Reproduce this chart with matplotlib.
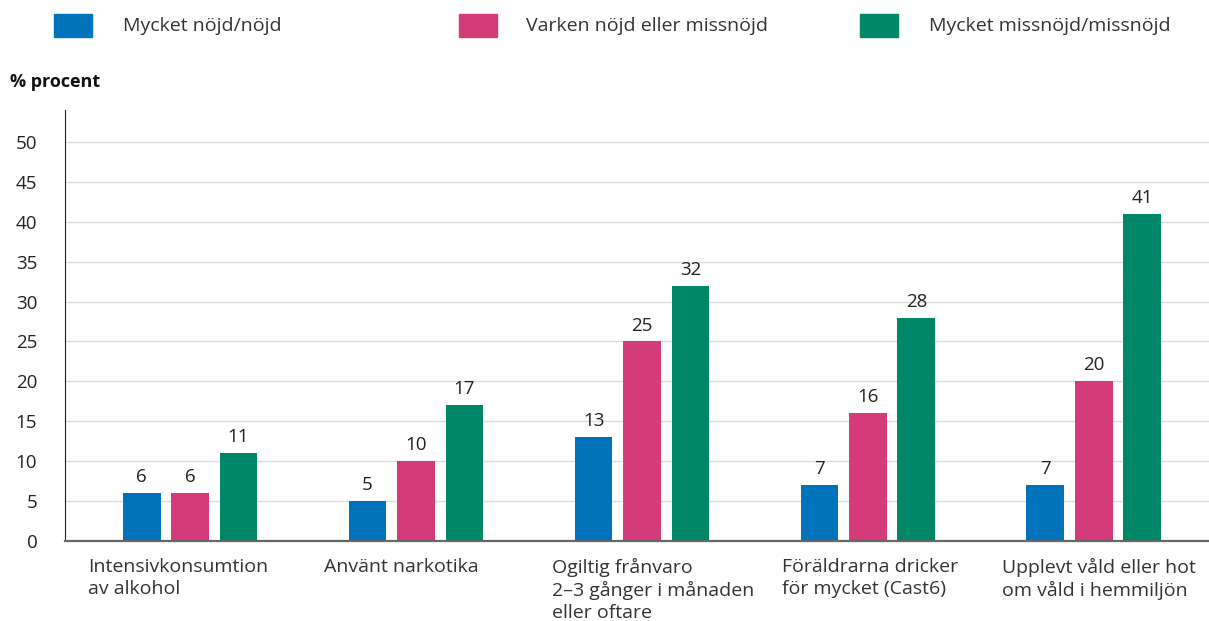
import matplotlib.pyplot as plt
import matplotlib.transforms as mtransforms
import numpy as np
from matplotlib.patches import Rectangle

categories = [
    "Intensivkonsumtion\nav alkohol",
    "Använt narkotika",
    "Ogiltig frånvaro\n2–3 gånger i månaden\neller oftare",
    "Föräldrarna dricker\nför mycket (Cast6)",
    "Upplevt våld eller hot\nom våld i hemmiljön",
]
series_names = ["Mycket nöjd/nöjd", "Varken nöjd eller missnöjd", "Mycket missnöjd/missnöjd"]
nojd = [6, 5, 13, 7, 7]
varken = [6, 10, 25, 16, 20]
missnojd = [11, 17, 32, 28, 41]
yticks = [0, 5, 10, 15, 20, 25, 30, 35, 40, 45, 50]

colors = ["#0073ba", "#d43b7a", "#008767"]
text_color = "#333333"
fs = 14

plt.rcParams['font.family'] = ['Open Sans', 'DejaVu Sans']

fig = plt.figure(figsize=(12.09, 6.21), dpi=100)
ax = fig.add_axes([0.0538, 0.1288, 0.9462, 0.6941])

x = np.arange(len(categories))
width = 0.168
offset = 0.2146
for i, (vals, col) in enumerate(zip([nojd, varken, missnojd], colors)):
    pos = x + (i - 1) * offset
    ax.bar(pos, vals, width=width, color=col, zorder=3)
    for p, v in zip(pos, vals):
        ax.annotate(str(v), (p, v), xytext=(0, 5), textcoords='offset points',
                    ha='center', va='bottom', fontsize=13.5, color='#222222')

ax.set_xlim(-0.553, 4.509)
ax.set_ylim(0, 54)
ax.set_yticks(yticks)
ax.set_yticklabels([str(t) for t in yticks], fontsize=13.5, color='#222222')
ax.tick_params(axis='y', length=0, pad=20)
ax.set_xticks(x)
ax.set_xticklabels(categories, fontsize=fs, color=text_color, ha='left',
                   linespacing=1.3)
ax.tick_params(axis='x', length=0, pad=12)
# labels start a bit left of the group centre (first one a little further)
shifts = [-1.02, -0.92, -0.90, -0.86, -0.92]
for lbl, dx in zip(ax.get_xticklabels(), shifts):
    lbl.set_transform(lbl.get_transform() +
                      mtransforms.ScaledTranslation(dx, 0, fig.dpi_scale_trans))

ax.grid(axis='y', color='#d9dee2', linewidth=1, zorder=0)
for s in ['top', 'right']:
    ax.spines[s].set_visible(False)
ax.spines['left'].set_color('#222222')
ax.spines['left'].set_linewidth(0.8)
ax.spines['bottom'].set_color('#666666')
ax.spines['bottom'].set_linewidth(1.6)
ax.spines['bottom'].set_zorder(4)

fig.text(10 / 1209, 1 - 82 / 621, "% procent", fontsize=13, fontweight='bold',
         color='#111111', va='center', ha='left')

# legend drawn by hand to match the spread-out layout
W, H = 1209, 621
for (sq_x, tx_x), name, col in zip([(54, 123), (459, 526), (860, 929)], series_names, colors):
    fig.patches.append(Rectangle((sq_x / W, 1 - 37 / H), 38 / W, 23 / H,
                                 transform=fig.transFigure, color=col))
    fig.text(tx_x / W, 1 - 26 / H, name, fontsize=fs, color=text_color,
             va='center', ha='left')

fig.savefig("out.png", dpi=100)
